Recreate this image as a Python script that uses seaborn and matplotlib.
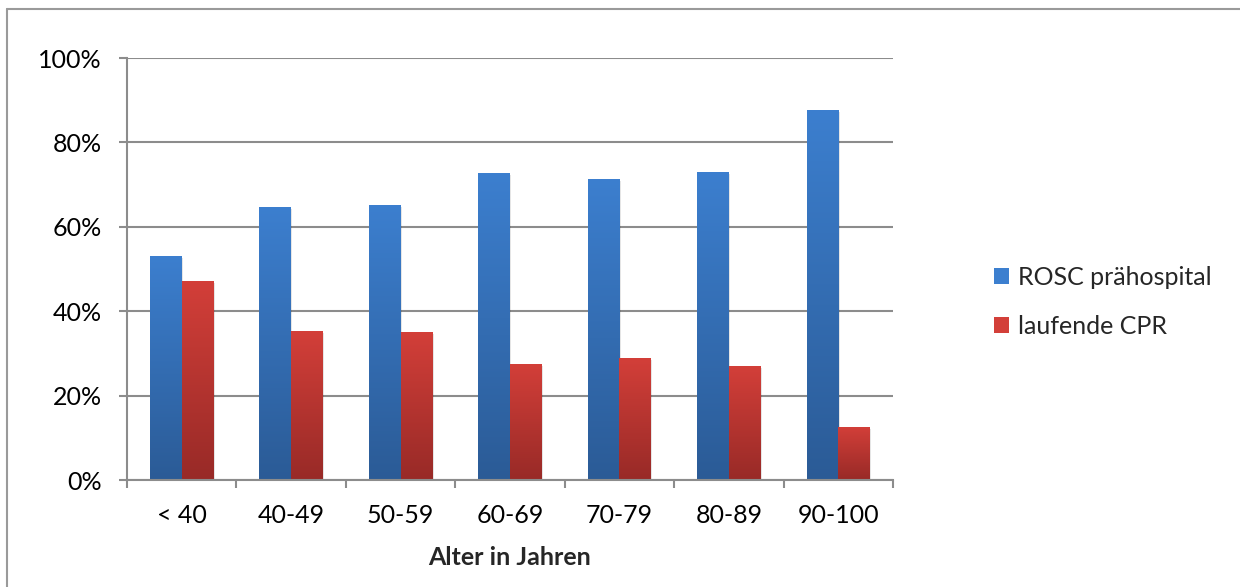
import numpy as np
import pandas as pd
import matplotlib
matplotlib.use("Agg")
import matplotlib.pyplot as plt
from matplotlib.colors import LinearSegmentedColormap
from matplotlib.patches import Rectangle
from matplotlib.ticker import PercentFormatter, FixedLocator
import seaborn as sns

# Anteil der Fälle je Altersgruppe
altersgruppen = ["< 40", "40-49", "50-59", "60-69", "70-79", "80-89", "90-100"]
rosc_praehospital = [0.531, 0.647, 0.652, 0.727, 0.713, 0.730, 0.877]
laufende_cpr = [0.472, 0.353, 0.351, 0.275, 0.289, 0.270, 0.126]
serien = ["ROSC prähospital", "laufende CPR"]

df = pd.DataFrame({
    "Alter": altersgruppen * 2,
    "Anteil": rosc_praehospital + laufende_cpr,
    "Serie": [serien[0]] * len(altersgruppen) + [serien[1]] * len(altersgruppen),
})

sns.set_style("white")
plt.rcParams["font.family"] = ["Lato", "DejaVu Sans"]

grid_grey = "#8c8c8c"
farben = {serien[0]: ("#3c7fcf", "#2b5b96"), serien[1]: ("#d33f39", "#982a27")}
fs = 18

fig = plt.figure(figsize=(12.4, 5.87), dpi=100)
ax = fig.add_axes([127 / 1240, 1 - 480 / 587, (893 - 127) / 1240, (480 - 58) / 587])

sns.barplot(data=df, x="Alter", y="Anteil", hue="Serie", order=altersgruppen,
            hue_order=serien, palette=[farben[s][0] for s in serien],
            width=0.58, ax=ax, legend=False, saturation=1)

# vertical gradient fill per bar, with a faint drop shadow
n = len(altersgruppen)
for i, patch in enumerate(ax.patches[: 2 * n]):
    serie = serien[i // n]
    top, bottom = farben[serie]
    x0, y0 = patch.get_x(), patch.get_y()
    w, h = patch.get_width(), patch.get_height()
    shadow = Rectangle((x0 + 0.012, y0), w, h - 0.004, facecolor="#000000",
                       alpha=0.10, edgecolor="none", zorder=1.5)
    ax.add_patch(shadow)
    cmap = LinearSegmentedColormap.from_list(serie, [bottom, top])
    grad = np.linspace(0, 1, 256).reshape(-1, 1)
    im = ax.imshow(grad, cmap=cmap, origin="lower", aspect="auto",
                   extent=(x0, x0 + w, y0, y0 + h), zorder=2)
    im.set_clip_path(patch)
    patch.set_facecolor("none")
    patch.set_edgecolor("none")
ax.set_xlim(-0.5, n - 0.5)
ax.set_ylim(0, 1.0)

# axes styling
ax.yaxis.set_major_locator(FixedLocator([0, 0.2, 0.4, 0.6, 0.8, 1.0]))
ax.yaxis.set_major_formatter(PercentFormatter(1.0, decimals=0))
ax.grid(axis="y", color=grid_grey, linewidth=1.5, zorder=0)
ax.set_axisbelow(True)
for side in ["top", "right"]:
    ax.spines[side].set_visible(False)
for side in ["left", "bottom"]:
    ax.spines[side].set_color(grid_grey)
    ax.spines[side].set_linewidth(1.5)
    ax.spines[side].set_zorder(3)

ax.tick_params(axis="y", direction="out", length=6, width=1.5, color=grid_grey,
               pad=12, labelsize=fs, labelcolor="black", left=True)
ax.set_xticks(range(n))
ax.set_xticklabels(altersgruppen)
ax.set_xticks(np.arange(-0.5, n, 1.0), minor=True)
ax.tick_params(axis="x", which="major", length=0, pad=17, labelsize=fs,
               labelcolor="black")
ax.tick_params(axis="x", which="minor", direction="out", length=6, width=1.5,
               color=grid_grey, bottom=True)

ax.set_ylabel("")
ax.set_xlabel("Alter in Jahren", fontsize=fs, fontweight="bold", labelpad=14)

# legend with square markers
handles = [Rectangle((0, 0), 1, 1, facecolor=farben[s][0], edgecolor="none")
           for s in serien]
fig.legend(handles, serien, loc="center left",
           bbox_to_anchor=(972 / 1240, 1 - 302 / 587), frameon=False,
           fontsize=fs, handlelength=0.6, handleheight=0.6,
           handletextpad=0.35, labelspacing=1.05)

# thin frame around the chart area
fig.add_artist(plt.Line2D([7 / 1240, 7 / 1240], [0, 1 - 9 / 587],
                          transform=fig.transFigure, color="#9a9a9a", linewidth=1.5))
fig.add_artist(plt.Line2D([7 / 1240, 1], [1 - 9 / 587, 1 - 9 / 587],
                          transform=fig.transFigure, color="#9a9a9a", linewidth=1.5))

fig.savefig("out.png", dpi=100)
